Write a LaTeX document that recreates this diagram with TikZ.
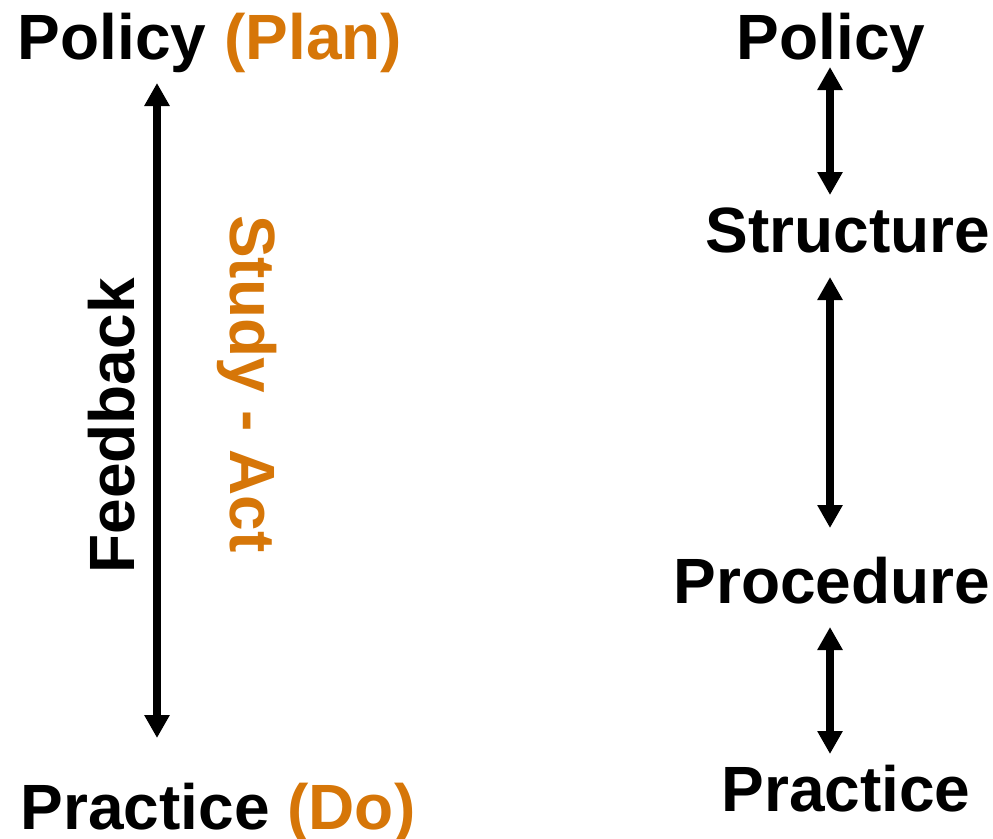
\documentclass[tikz,border=0pt]{standalone}
\usepackage{fontspec}
\setmainfont{Liberation Sans}
\usetikzlibrary{arrows.meta}
\definecolor{plorange}{RGB}{214,118,8}
\begin{document}
\begin{tikzpicture}[x=1pt,y=-1pt,
  lbl/.style={inner sep=0pt,anchor=base,font=\fontsize{64}{70}\selectfont\bfseries},
  dbl/.style={line width=8pt,{Triangle[width=24pt,length=23pt]}-{Triangle[width=24pt,length=23pt]}}]
\useasboundingbox (0,0) rectangle (993,838);
% left column
\node[lbl] (polL) at (210,59) {Policy \textcolor{plorange}{(Plan)}};
\node[lbl] (praL) at (218,829) {Practice \textcolor{plorange}{(Do)}};
\node[lbl,rotate=90] (fb) at (134,426) {Feedback};
\node[lbl,rotate=-90,text=plorange] (sa) at (230,384) {Study - Act};
\coordinate (l1) at (157,83);
\coordinate (l2) at (157,738);
\draw[dbl] (l1) -- (l2);
% right column
\node[lbl] (polR) at (831,59) {Policy};
\node[lbl] (strR) at (848,252) {Structure};
\node[lbl] (proR) at (832,603) {Procedure};
\node[lbl] (praR) at (846,811) {Practice};
\coordinate (r1) at (830,67);
\coordinate (r2) at (830,195);
\coordinate (r3) at (830,277);
\coordinate (r4) at (830,528);
\coordinate (r5) at (830,627);
\coordinate (r6) at (830,754);
\draw[dbl] (r1) -- (r2);
\draw[dbl] (r3) -- (r4);
\draw[dbl] (r5) -- (r6);
\end{tikzpicture}
\end{document}
